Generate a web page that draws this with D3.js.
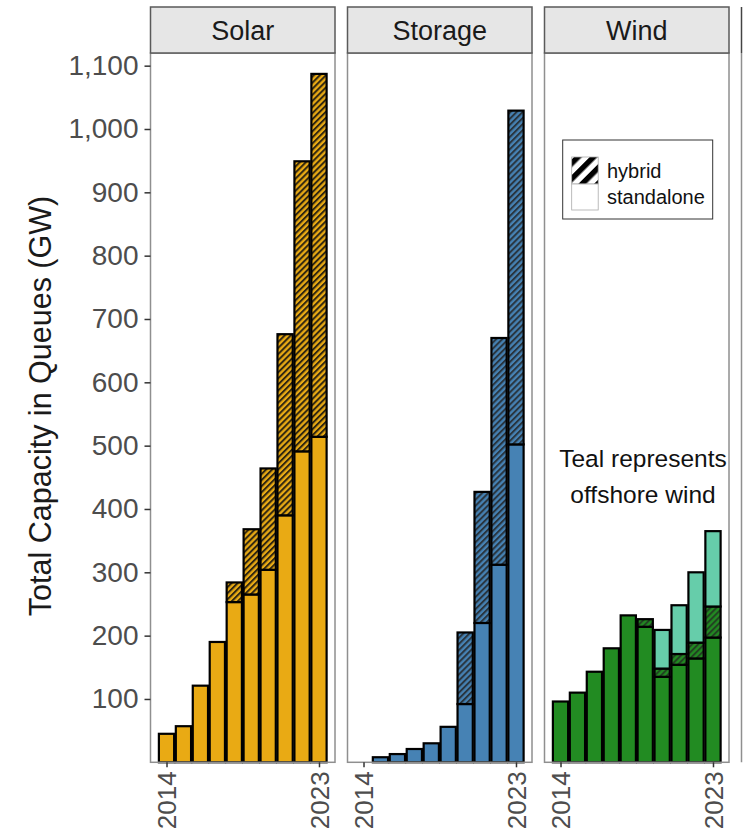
<!DOCTYPE html>
<html>
<head>
<meta charset="utf-8">
<script src="https://cdn.jsdelivr.net/npm/d3@7"></script>
<style>
  body { margin: 0; background: #fff; }
  svg { display: block; font-family: "Liberation Sans", Arial, sans-serif; }
</style>
</head>
<body>
<div id="result"></div>
<script>
// data (GW)
const YEARS = [2014, 2015, 2016, 2017, 2018, 2019, 2020, 2021, 2022, 2023];
const SOLAR_STANDALONE   = [45, 57, 121, 190, 253, 265, 304, 390, 491, 514];
const SOLAR_HYBRID       = [0, 0, 0, 0, 31, 103, 160, 286, 458, 573];
const STORAGE_STANDALONE = [0, 8, 13, 21, 30, 56, 92, 220, 312, 502];
const STORAGE_HYBRID     = [0, 0, 0, 0, 0, 0, 113, 207, 358, 527];
const WIND_STANDALONE    = [96, 110, 143, 180, 232, 214, 135, 154, 164, 197];
const WIND_HYBRID        = [0, 0, 0, 0, 0, 12, 13, 17, 25, 49];
const WIND_OFFSHORE      = [0, 0, 0, 0, 0, 0, 61, 77, 111, 119];
const PANELS  = ["Solar", "Storage", "Wind"];
const Y_TICKS = [100, 200, 300, 400, 500, 600, 700, 800, 900, 1000, 1100];
const X_TICKS = [2014, 2023];

let svg = d3.select("#result").append("svg")
    .attr("width", 754)
    .attr("height", 834);

const PANEL_TOP = 53, PANEL_BOTTOM = 762.3, PANEL_W = 184.5;
const STRIP_TOP = 7;
const BAR_W = 0.9;

const y = d3.scaleLinear().domain([0, 1120]).range([PANEL_BOTTOM, PANEL_TOP]);
const x = d3.scaleLinear().domain([2013.055, 2023.945]).range([0, PANEL_W]);

function panelLeft(i) { return 150.5 + i * 197; }

// hatch patterns
let defs = svg.append("defs");
function createHatch(id, fill, size, ink, inkW, opacity) {
    let p = defs.append("pattern")
        .attr("id", id)
        .attr("patternUnits", "userSpaceOnUse")
        .attr("width", size)
        .attr("height", size)
        .attr("patternTransform", "rotate(45)");
    p.append("rect").attr("width", size).attr("height", size).attr("fill", fill);
    p.append("rect").attr("width", inkW).attr("height", size)
        .attr("fill", ink).attr("fill-opacity", opacity);
}
createHatch("hatch-solar", "#E9AA14", 4.3, "#111", 2.0, 0.85);
createHatch("hatch-storage", "#4682B4", 4.3, "#222", 2.0, 0.8);
createHatch("hatch-wind", "#228B22", 4.3, "#222", 2.0, 0.7);
createHatch("hatch-key", "#fff", 11, "#000", 5.5, 1);

const LAYERS = [
    [ {values: SOLAR_STANDALONE, fill: "#E9AA14"},
      {values: SOLAR_HYBRID, fill: "url(#hatch-solar)"} ],
    [ {values: STORAGE_STANDALONE, fill: "#4682B4"},
      {values: STORAGE_HYBRID, fill: "url(#hatch-storage)"} ],
    [ {values: WIND_STANDALONE, fill: "#228B22"},
      {values: WIND_HYBRID, fill: "url(#hatch-wind)"},
      {values: WIND_OFFSHORE, fill: "#66CDAA"} ]
];

function createPanel(i) {
    const left = panelLeft(i);
    let g = svg.append("g").attr("transform", "translate(" + left + ",0)");

    // stacked bars
    let base = YEARS.map(() => 0);
    LAYERS[i].forEach(layer => {
        YEARS.forEach((yr, j) => {
            const v = layer.values[j];
            if (v > 0) {
                g.append("rect")
                    .attr("x", x(yr - BAR_W / 2))
                    .attr("width", x(yr + BAR_W / 2) - x(yr - BAR_W / 2))
                    .attr("y", y(base[j] + v))
                    .attr("height", y(base[j]) - y(base[j] + v))
                    .attr("fill", layer.fill)
                    .attr("stroke", "#000")
                    .attr("stroke-width", 2.2);
            }
            base[j] += v;
        });
    });

    // panel border
    g.append("rect")
        .attr("x", 0).attr("y", PANEL_TOP)
        .attr("width", PANEL_W).attr("height", PANEL_BOTTOM - PANEL_TOP)
        .attr("fill", "none").attr("stroke", "#8f8f8f").attr("stroke-width", 1.5);

    // strip
    g.append("rect")
        .attr("x", 0).attr("y", STRIP_TOP)
        .attr("width", PANEL_W).attr("height", PANEL_TOP - STRIP_TOP)
        .attr("fill", "#e6e6e6").attr("stroke", "#5a5a5a").attr("stroke-width", 1.5);
    g.append("text")
        .attr("x", PANEL_W / 2).attr("y", 40)
        .attr("text-anchor", "middle")
        .attr("font-size", 27)
        .attr("fill", "#1a1a1a")
        .text(PANELS[i]);

    // x axis
    let ax = g.append("g")
        .attr("transform", "translate(0," + PANEL_BOTTOM + ")")
        .call(d3.axisBottom(x).tickValues(X_TICKS).tickFormat(d3.format("d")).tickSize(5).tickSizeOuter(0));
    ax.select(".domain").remove();
    ax.selectAll("line").attr("stroke", "#333").attr("stroke-width", 1.5);
    ax.selectAll("text")
        .attr("transform", "rotate(-90)")
        .attr("text-anchor", "end")
        .attr("x", -9).attr("y", 0).attr("dy", "0.35em")
        .attr("font-size", 26)
        .attr("font-family", "Liberation Sans, Arial, sans-serif")
        .attr("fill", "#4d4d4d");
}

for (let i = 0; i < PANELS.length; i++) createPanel(i);

// edge of a fourth panel cut off at the right
svg.append("line").attr("x1", 741.5).attr("x2", 741.5).attr("y1", STRIP_TOP).attr("y2", PANEL_TOP)
    .attr("stroke", "#444").attr("stroke-width", 1.5);
svg.append("line").attr("x1", 741.5).attr("x2", 741.5).attr("y1", PANEL_TOP).attr("y2", PANEL_BOTTOM)
    .attr("stroke", "#8f8f8f").attr("stroke-width", 1.5);

// y axis
let ay = svg.append("g")
    .attr("transform", "translate(" + panelLeft(0) + ",0)")
    .call(d3.axisLeft(y).tickValues(Y_TICKS).tickFormat(d3.format(",")).tickSize(6).tickPadding(6));
ay.select(".domain").remove();
ay.selectAll("line").attr("stroke", "#333").attr("stroke-width", 1.5);
ay.selectAll("text")
    .attr("font-size", 28)
    .attr("font-family", "Liberation Sans, Arial, sans-serif")
    .attr("fill", "#4d4d4d");

svg.append("text")
    .attr("transform", "translate(40,406) rotate(-90)")
    .attr("text-anchor", "middle")
    .attr("dy", "0.35em")
    .attr("font-size", 30.5)
    .attr("fill", "#1a1a1a")
    .text("Total Capacity in Queues (GW)");

// legend
let lg = svg.append("g");
lg.append("rect").attr("x", 562.7).attr("y", 140).attr("width", 150).attr("height", 79)
    .attr("fill", "#fff").attr("stroke", "#333").attr("stroke-width", 1);
lg.append("rect").attr("x", 571.7).attr("y", 157).attr("width", 26.5).attr("height", 27)
    .attr("fill", "url(#hatch-key)").attr("stroke", "#aaa").attr("stroke-width", 0.8);
lg.append("rect").attr("x", 571.7).attr("y", 184).attr("width", 26.5).attr("height", 26)
    .attr("fill", "#fff").attr("stroke", "#aaa").attr("stroke-width", 0.8);
lg.append("text").attr("x", 607).attr("y", 178).attr("font-size", 20).attr("fill", "#111").text("hybrid");
lg.append("text").attr("x", 607).attr("y", 204).attr("font-size", 20).attr("fill", "#111").text("standalone");

// annotation
svg.append("text").attr("x", 643).attr("y", 467).attr("text-anchor", "middle")
    .attr("font-size", 24.5).attr("fill", "#111").text("Teal represents");
svg.append("text").attr("x", 643).attr("y", 503).attr("text-anchor", "middle")
    .attr("font-size", 24.5).attr("fill", "#111").text("offshore wind");
</script>
</body>
</html>
